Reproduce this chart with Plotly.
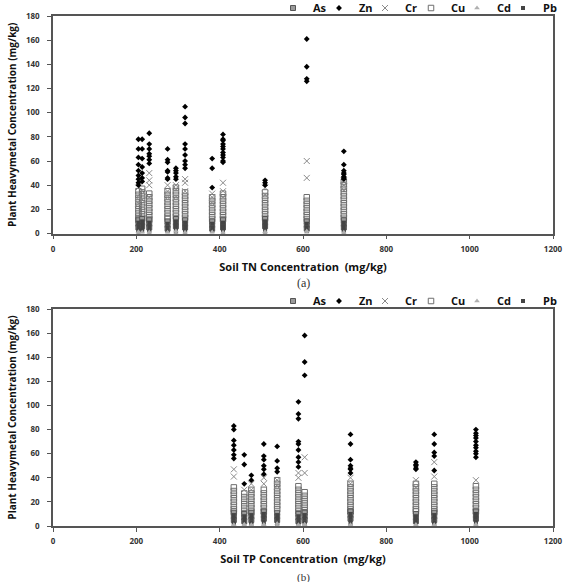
import plotly.graph_objects as go

# ---------------- (a) Soil TN ----------------
TN_x = [205, 214, 231, 275, 295, 317, 382, 408, 509, 609, 698]
Zn_TN = [[78, 70, 63, 57, 52, 48, 45, 42, 40],
         [78, 70, 62, 55, 50, 46, 43],
         [83, 74, 70, 66, 64, 61, 58],
         [70, 61, 59, 52, 51, 46, 45],
         [54, 52, 50, 47, 45],
         [105, 96, 91, 74, 70, 65, 60, 57, 54],
         [62, 54, 38],
         [82, 78, 77, 74, 72, 70, 67, 65, 63, 60, 59],
         [44, 42, 40],
         [161, 138, 128, 126],
         [68, 57, 52, 50, 49, 47, 46, 45]]
Cr_TN = [[38, 30, 25], [35, 28], [50, 44, 40, 30], [40, 35, 30], [40, 37, 30],
         [45, 42, 35], [33, 30, 25], [42, 35, 30], [38, 32], [60, 46], [44, 40, 36]]
Cu_TN = [[35, 32, 29, 26, 23, 20, 17, 14, 12],
         [37, 34, 31, 28, 25, 22, 19, 16, 13],
         [33, 30, 27, 24, 21, 18, 15, 12],
         [35, 32, 29, 26, 23, 20, 17, 14, 12],
         [38, 35, 32, 29, 26, 23, 20, 17, 14],
         [34, 31, 28, 25, 22, 19, 16, 13],
         [30, 27, 24, 21, 18, 15, 12],
         [33, 30, 27, 24, 21, 18, 15, 12],
         [34, 31, 28, 25, 22, 19, 16, 13],
         [30, 27, 24, 21, 18, 15, 12],
         [43, 40, 37, 34, 31, 28, 25, 22, 19, 16, 13]]
As_TN = [[11, 8, 5], [12, 9, 6], [11, 8, 5], [10, 7, 4], [12, 9, 6], [11, 8, 5],
         [10, 7, 4], [11, 8, 5], [12, 9, 6], [10, 7, 4], [11, 8, 5]]
Pb_TN = [[9, 6, 3, 1], [10, 7, 4, 2], [9, 6, 3, 1], [8, 5, 2], [10, 7, 4, 1], [9, 6, 3, 1],
         [8, 5, 2], [9, 6, 3, 1], [10, 7, 4, 1], [8, 5, 2], [9, 6, 3, 1]]
Cd_TN = [[1.5, 0.5], [1, 0.3], [1.2, 0.4], [1, 0.3], [2, 0.5], [1, 0.3],
         [1.2, 0.4], [1, 0.3], [1.5, 0.5], [2, 0.5], [1, 0.3]]

# ---------------- (b) Soil TP ----------------
TP_x = [434, 459, 476, 506, 538, 589, 604, 714, 871, 915, 1015]
Zn_TP = [[83, 80, 71, 67, 63, 59, 56],
         [59, 51, 35],
         [42, 38],
         [68, 58, 55, 50, 47, 43],
         [66, 54, 48, 45],
         [103, 93, 89, 70, 68, 63, 57, 53, 49],
         [158, 136, 125],
         [76, 68, 55, 50, 48, 47, 44],
         [53, 51, 50, 48, 47],
         [76, 68, 61, 58, 46],
         [80, 77, 75, 73, 70, 67, 65, 62, 60, 57]]
Cr_TP = [[47, 41], [30], [35, 30], [40, 35], [38, 33], [44, 40], [57, 44],
         [40, 35], [38, 32], [53, 41], [38]]
Cu_TP = [[32, 29, 26, 23, 20, 17, 14, 12],
         [27, 24, 21, 18, 15, 12],
         [30, 27, 24, 21, 18, 15, 12],
         [30, 27, 24, 21, 18, 15, 12],
         [38, 35, 32, 29, 26, 23, 20, 17, 14],
         [33, 30, 27, 24, 21, 18, 15, 12],
         [28, 25, 22, 19, 16, 13],
         [35, 32, 29, 26, 23, 20, 17, 14, 12],
         [35, 32, 29, 26, 23, 20, 17, 14, 12],
         [35, 32, 29, 26, 23, 20, 17, 14, 12],
         [33, 30, 27, 24, 21, 18, 15, 12]]
As_TP = [[11, 8, 5], [10, 7, 4], [11, 8, 5], [12, 9, 6], [11, 8, 5], [10, 7, 4],
         [11, 8, 5], [12, 9, 6], [10, 7, 4], [11, 8, 5], [12, 9, 6]]
Pb_TP = [[9, 6, 3, 1], [8, 5, 2], [9, 6, 3, 1], [10, 7, 4, 1], [9, 6, 3, 1], [8, 5, 2],
         [9, 6, 3, 1], [10, 7, 4, 1], [8, 5, 2], [9, 6, 3, 1], [10, 7, 4, 1]]
Cd_TP = [[1, 0.3], [1.5, 0.5], [1, 0.3], [1.2, 0.4], [2, 0.5], [1, 0.3],
         [1.5, 0.5], [1, 0.3], [1.2, 0.4], [1, 0.3], [1.5, 0.5]]

series_names = ["As", "Zn", "Cr", "Cu", "Cd", "Pb"]
styles = {
    "As": dict(symbol="square", size=5, color="#9a9a9a", line=dict(color="#555555", width=1)),
    "Zn": dict(symbol="diamond", size=4.5, color="#000000"),
    "Cr": dict(symbol="x-thin-open", size=6, color="#8a8a8a", line=dict(color="#8a8a8a", width=1)),
    "Cu": dict(symbol="square-open", size=5.5, color="#6e6e6e", line=dict(width=1)),
    "Cd": dict(symbol="triangle-up", size=5, color="#b0b0b0"),
    "Pb": dict(symbol="square", size=4, color="#444444"),
}
data_a = {"As": As_TN, "Zn": Zn_TN, "Cr": Cr_TN, "Cu": Cu_TN, "Cd": Cd_TN, "Pb": Pb_TN}
data_b = {"As": As_TP, "Zn": Zn_TP, "Cr": Cr_TP, "Cu": Cu_TP, "Cd": Cd_TP, "Pb": Pb_TP}

def flatten(xs, cols):
    fx, fy = [], []
    for cx, vals in zip(xs, cols):
        for v in vals:
            fx.append(cx)
            fy.append(v)
    return fx, fy

fig = go.Figure()
draw_order = ["Cu", "Cr", "As", "Pb", "Cd", "Zn"]
for name in draw_order:
    lw = 16 if name == "Pb" else 1
    fx, fy = flatten(TN_x, data_a[name])
    fig.add_trace(go.Scatter(x=fx, y=fy, mode="markers", name=name, marker=styles[name],
                             xaxis="x", yaxis="y", legend="legend", legendwidth=lw,
                             legendrank=series_names.index(name)))
    fx, fy = flatten(TP_x, data_b[name])
    fig.add_trace(go.Scatter(x=fx, y=fy, mode="markers", name=name, marker=styles[name],
                             xaxis="x2", yaxis="y2", legend="legend2", legendwidth=lw,
                             legendrank=series_names.index(name)))

W, H = 564, 582
tickfont = dict(family="Open Sans", size=8, color="#333333", weight="bold")
titlefont = dict(family="Open Sans", size=11, color="#111111", weight="bold")

def xax(domain, anchor, title):
    return dict(domain=domain, anchor=anchor, range=[0, 1200], dtick=200, tick0=0,
                showline=True, linecolor="#555555", linewidth=1.5, mirror=True,
                ticks="outside", ticklen=4, tickcolor="#555555", showgrid=False,
                zeroline=False, tickfont=tickfont, ticklabelstandoff=3, automargin=False,
                title=dict(text=title, font=titlefont, standoff=10))

def yax(domain, anchor):
    return dict(domain=domain, anchor=anchor, range=[0, 180], dtick=20, tick0=0,
                showline=True, linecolor="#555555", linewidth=1.5, mirror=True,
                ticks="outside", ticklen=4, tickcolor="#555555", showgrid=False,
                zeroline=False, tickfont=tickfont, ticklabelstandoff=6, automargin=False,
                title=dict(text="Plant Heavymetal Concentration (mg/kg)",
                           font=dict(family="Open Sans", size=10, color="#111111", weight="bold"),
                           standoff=7))

legfont = dict(family="Open Sans", size=11, color="#111111", weight="bold")
xa0, xa1 = 53 / W, 553 / W
fig.update_layout(
    width=W, height=H, margin=dict(l=0, r=0, t=0, b=0, autoexpand=False),
    paper_bgcolor="white", plot_bgcolor="white",
    xaxis=xax([xa0, xa1], "y", "Soil TN Concentration  (mg/kg)"),
    yaxis=yax([1 - 233.5 / H, 1 - 16 / H], "x"),
    xaxis2=xax([xa0, xa1], "y2", "Soil TP Concentration  (mg/kg)"),
    yaxis2=yax([1 - 526 / H, 1 - 309 / H], "x2"),
    legend=dict(orientation="h", x=273 / W, xanchor="left", y=1 - 8 / H, yanchor="middle",
                font=legfont, itemwidth=30, entrywidth=1, bgcolor="rgba(0,0,0,0)",
                traceorder="normal"),
    legend2=dict(orientation="h", x=273 / W, xanchor="left", y=1 - 301 / H, yanchor="middle",
                 font=legfont, itemwidth=30, entrywidth=1, bgcolor="rgba(0,0,0,0)",
                 traceorder="normal"),
    annotations=[
        dict(text="(a)", x=303 / W, y=1 - 283 / H, xref="paper", yref="paper", showarrow=False,
             yanchor="middle", font=dict(family="Liberation Serif", size=12, color="#333333")),
        dict(text="(b)", x=303 / W, y=1 - 577 / H, xref="paper", yref="paper", showarrow=False,
             yanchor="middle", font=dict(family="Liberation Serif", size=11, color="#333333")),
    ],
)

fig.write_html("out.html")
